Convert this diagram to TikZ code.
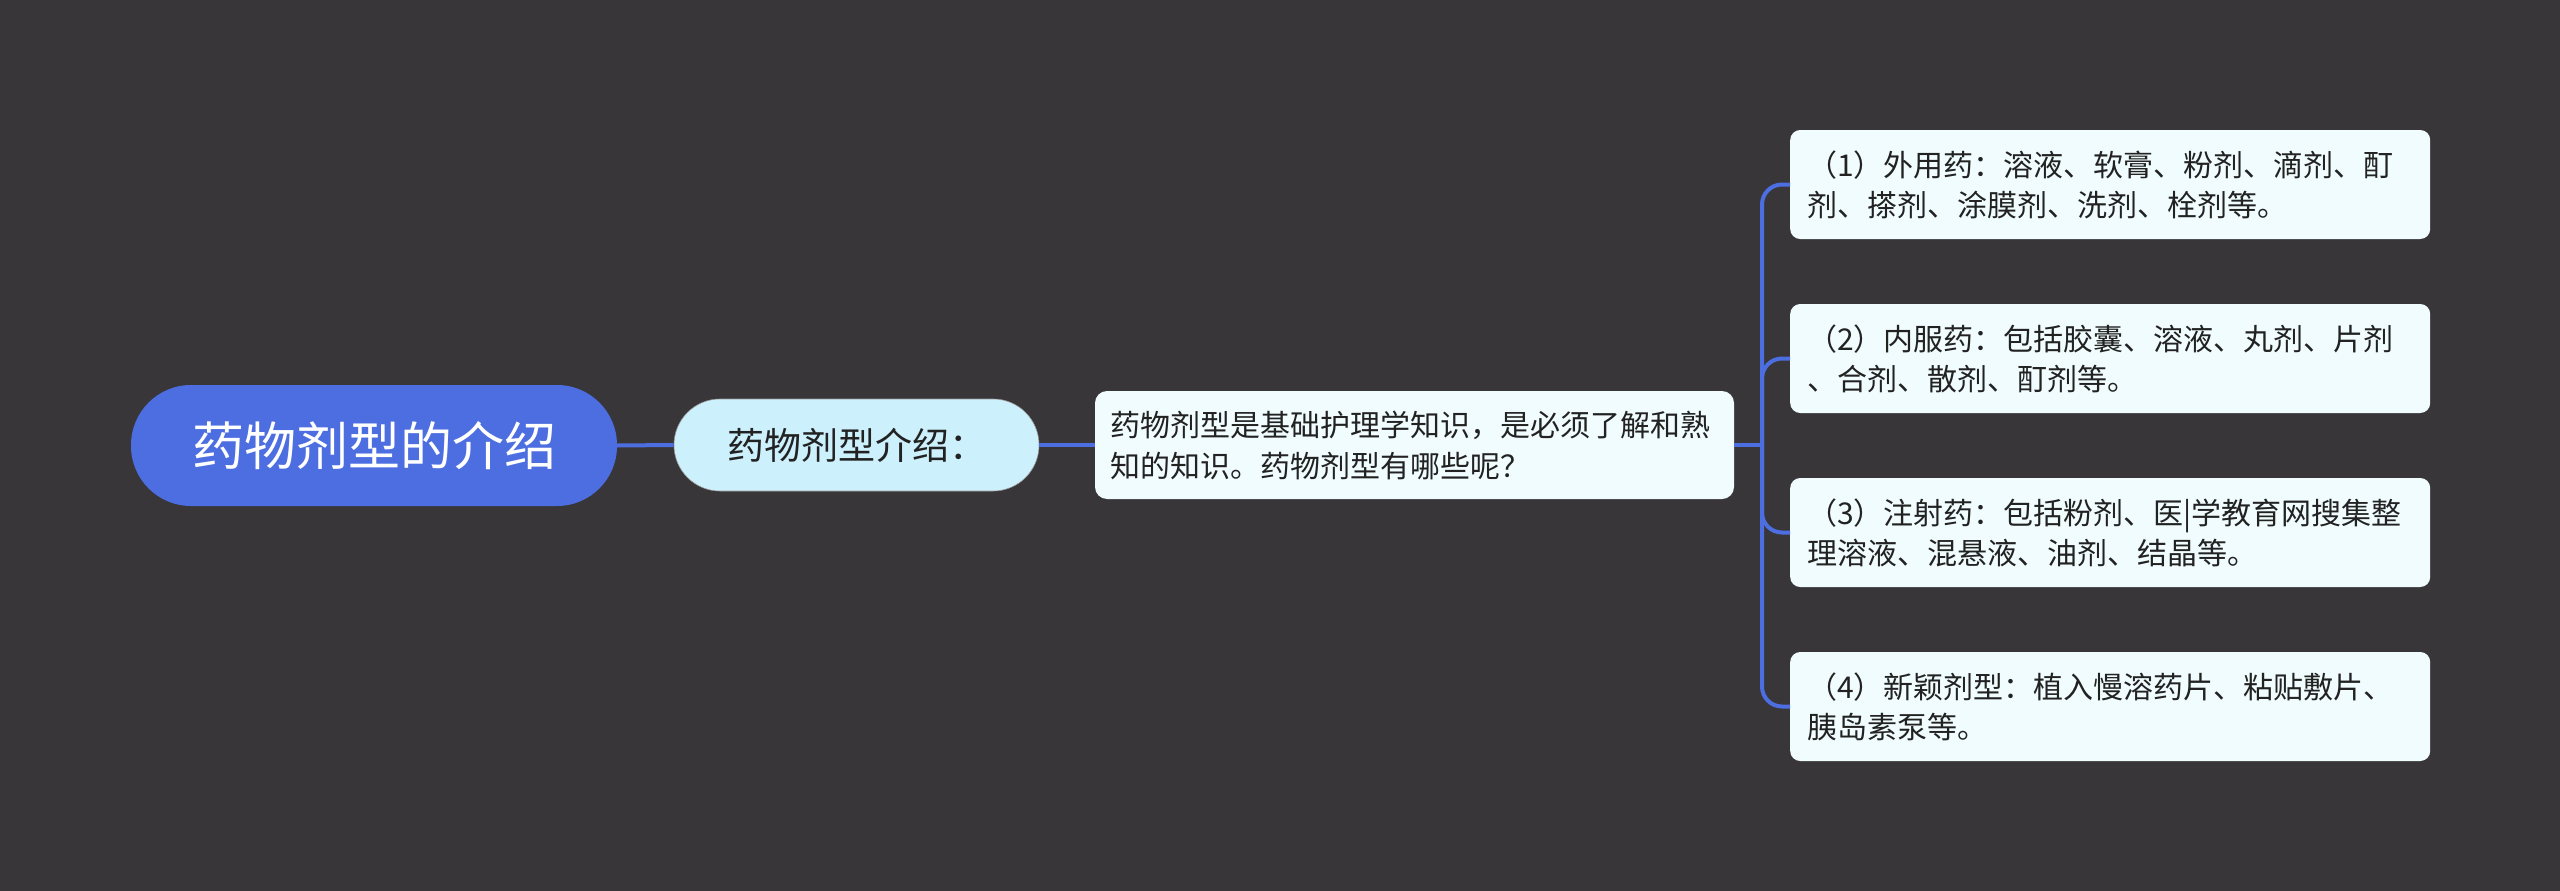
\documentclass[tikz,border=0pt]{standalone}
\usepackage{fontspec}
\setmainfont{Noto Sans CJK SC}
\definecolor{bgcol}{HTML}{383638}
\definecolor{rootcol}{HTML}{4C6EE0}
\definecolor{subcol}{HTML}{CDF0FD}
\definecolor{boxcol}{HTML}{F0FCFD}
\definecolor{linecol}{HTML}{4C6EE0}
\definecolor{txtcol}{HTML}{222222}
\begin{document}
\begin{tikzpicture}[x=1pt,y=-1pt,
  conn/.style={draw=linecol, line width=4pt},
  rootbox/.style={fill=rootcol, rounded corners=60pt, minimum width=486pt, minimum height=121pt, inner sep=0pt, text=white, font=\fontsize{52}{60}\selectfont},
  subbox/.style={fill=subcol, draw=black!40, line width=0.6pt, rounded corners=46pt, minimum width=365pt, minimum height=92pt, inner sep=0pt, text=txtcol, font=\fontsize{37}{44}\selectfont},
  midbox/.style={fill=boxcol, rounded corners=12pt, minimum width=639pt, minimum height=108pt, text width=609pt, inner xsep=15pt, inner ysep=0pt, align=left, text=txtcol, font=\fontsize{30}{41}\selectfont},
  leafbox/.style={fill=boxcol, rounded corners=10pt, minimum width=640pt, minimum height=109pt, text width=606pt, inner xsep=17pt, inner ysep=0pt, align=left, text=txtcol, anchor=west, font=\fontsize{30}{40}\selectfont}
]
\fill[bgcol] (0,0) rectangle (2560,891);
\useasboundingbox (0,0) rectangle (2560,891);

\node[rootbox] (r) at (374,445.5) {药物剂型的介绍};
\node[subbox] (s) at (856.5,445) {药物剂型介绍：};
\node[midbox] (m) at (1414.5,445) {药物剂型是基础护理学知识，是必须了解和熟\\知的知识。药物剂型有哪些呢？};

\node[leafbox] (l1) at (1790,184.5) {（1）外用药：溶液、软膏、粉剂、滴剂、酊\\剂、搽剂、涂膜剂、洗剂、栓剂等。};
\node[leafbox] (l2) at (1790,358.5) {（2）内服药：包括胶囊、溶液、丸剂、片剂\\、合剂、散剂、酊剂等。};
\node[leafbox] (l3) at (1790,532.5) {（3）注射药：包括粉剂、医|学教育网搜集整\\理溶液、混悬液、油剂、结晶等。};
\node[leafbox] (l4) at (1790,706.5) {（4）新颖剂型：植入慢溶药片、粘贴敷片、\\胰岛素泵等。};

\coordinate (j) at (1762,445);
\draw[conn] (r.east) -- (s.west);
\draw[conn] (s.east) -- (m.west);
\draw[conn] (m.east) -- (j);
\foreach \k in {l1,l2,l3,l4}{
  \draw[conn, rounded corners=20pt] (j) |- (\k.west);
}
\end{tikzpicture}
\end{document}
